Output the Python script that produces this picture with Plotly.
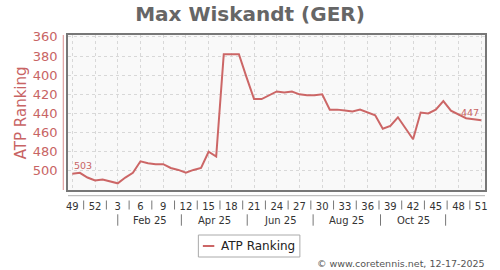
import plotly.graph_objects as go

# ---- data ----
week_index = list(range(55))  # 2024 wk49 .. 2025 wk51
rank = [503, 502, 507, 510, 509, 511, 513, 507, 502, 490,
        492, 493, 493, 497, 499, 502, 499, 497, 480, 485,
        378, 378, 378, 402, 425, 425, 421, 417, 418, 417,
        420, 421, 421, 420, 436, 436, 437, 438, 436, 439,
        442, 456, 453, 444, 455, 467, 439, 440, 436, 427,
        437, 441, 445, 446, 447]
tick_vals = list(range(0, 55, 3))
tick_text = ["49", "52", "3", "6", "9", "12", "15", "18", "21", "24",
             "27", "30", "33", "36", "39", "42", "45", "48", "51"]
month_bounds = [6.0, 14.4, 23.1, 31.8, 40.7, 49.3]
month_labels = ["Feb 25", "Apr 25", "Jun 25", "Aug 25", "Oct 25"]

# ---- geometry helpers (pixels -> paper) ----
W, H = 500, 270
L, R, T, B = 68, 13, 35, 80
PW, PH = W - L - R, H - T - B


def px(x):
    return (x - L) / PW


def py(y):
    return (H - B - y) / PH


RED = "#cc6666"
RED_TXT = "#c86464"

fig = go.Figure()
fig.add_trace(go.Scatter(x=week_index, y=rank, mode="lines",
                         line=dict(color=RED, width=2), showlegend=False,
                         hoverinfo="skip"))

shapes = []
annotations = []

# red y-axis line offset from plot
shapes.append(dict(type="line", xref="paper", yref="paper",
                   x0=px(63.3), x1=px(63.3), y0=py(35), y1=py(190),
                   line=dict(color="#e0a0a0", width=1.2)))
# x axis line below plot
shapes.append(dict(type="line", xref="paper", yref="paper",
                   x0=0, x1=1, y0=py(195.7), y1=py(195.7),
                   line=dict(color="#b0b0b0", width=1)))
# separators between week labels
for i in range(len(tick_vals) - 1):
    xm = (tick_vals[i] + tick_vals[i + 1]) / 2
    shapes.append(dict(type="line", xref="x", yref="paper",
                       x0=xm, x1=xm, y0=py(200.5), y1=py(209.5),
                       line=dict(color="#777", width=1)))
# month separators and labels
for b in month_bounds:
    shapes.append(dict(type="line", xref="x", yref="paper",
                       x0=b, x1=b, y0=py(214.3), y1=py(225.7),
                       line=dict(color="#777", width=1)))
for i, lab in enumerate(month_labels):
    annotations.append(dict(x=(month_bounds[i] + month_bounds[i + 1]) / 2,
                            xref="x", y=py(220.7), yref="paper",
                            text=lab, showarrow=False, xanchor="center",
                            yanchor="middle",
                            font=dict(family="DejaVu Sans", size=10, color="#333")))

# data labels
annotations.append(dict(x=week_index[0], y=rank[0], xref="x", yref="y",
                        text=str(rank[0]), showarrow=False, xanchor="left",
                        yanchor="middle", yshift=8,
                        font=dict(family="DejaVu Sans", size=9.5, color=RED_TXT)))
annotations.append(dict(x=week_index[-1], y=rank[-1], xref="x", yref="y",
                        text=str(rank[-1]), showarrow=False, xanchor="right",
                        yanchor="middle", yshift=8,
                        font=dict(family="DejaVu Sans", size=9.5, color=RED_TXT)))

# y-axis title
annotations.append(dict(x=px(20.5), y=0.5, xref="paper", yref="paper",
                        text="ATP Ranking", textangle=-90, showarrow=False,
                        xanchor="center", yanchor="middle",
                        font=dict(family="DejaVu Sans", size=15, color=RED_TXT)))

# manual legend
shapes.append(dict(type="rect", xref="paper", yref="paper",
                   x0=px(199), x1=px(301), y0=py(235), y1=py(257),
                   line=dict(color="#aaa", width=1), fillcolor="white"))
shapes.append(dict(type="line", xref="paper", yref="paper",
                   x0=px(203.5), x1=px(215), y0=py(246), y1=py(246),
                   line=dict(color=RED, width=2)))
annotations.append(dict(x=px(219.5), y=py(246), xref="paper", yref="paper",
                        text="ATP Ranking", showarrow=False, xanchor="left",
                        yanchor="middle",
                        font=dict(family="DejaVu Sans", size=12, color="#222")))

# copyright
annotations.append(dict(x=px(489), y=py(263), xref="paper", yref="paper",
                        text="© www.coretennis.net, 12-17-2025", showarrow=False,
                        xanchor="right", yanchor="middle",
                        font=dict(family="DejaVu Sans", size=9.5, color="#555")))

fig.update_layout(
    width=W, height=H,
    margin=dict(l=L, r=R, t=T, b=B),
    paper_bgcolor="white",
    plot_bgcolor="#f9f9f9",
    title=dict(text="<b>Max Wiskandt (GER)</b>", x=0.5, xanchor="center",
               y=1 - 14 / H, yanchor="middle",
               font=dict(family="DejaVu Sans", size=20, color="#666")),
    shapes=shapes,
    annotations=annotations,
    showlegend=False,
)
fig.update_xaxes(range=[-0.57, 54.5], tickmode="array", tickvals=tick_vals,
                 ticktext=tick_text, showgrid=True, gridcolor="#d8d8d8",
                 griddash="3px,3px", gridwidth=1, zeroline=False,
                 showline=True, linecolor="#777", linewidth=1.5, mirror=True,
                 ticks="outside", ticklen=6, tickcolor="rgba(0,0,0,0)",
                 tickfont=dict(family="DejaVu Sans", size=10, color="#333"))
fig.update_yaxes(range=[520, 358], tickmode="array",
                 tickvals=list(range(360, 501, 20)),
                 showgrid=True, gridcolor="#d8d8d8", griddash="3px,3px",
                 gridwidth=1, zeroline=False,
                 showline=True, linecolor="#777", linewidth=1.5, mirror=True,
                 ticks="outside", ticklen=6, tickcolor="rgba(0,0,0,0)",
                 tickfont=dict(family="DejaVu Sans", size=13, color=RED_TXT))

fig.write_html("out.html")
